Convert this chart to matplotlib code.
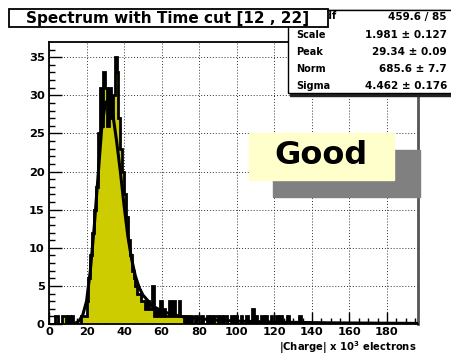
import matplotlib
matplotlib.use("Agg")
import matplotlib.pyplot as plt
import matplotlib.patches as mpatches
import numpy as np

plt.rcParams['font.family'] = ['DejaVu Sans']
plt.rcParams['font.weight'] = 'bold'
plt.rcParams['mathtext.default'] = 'bf'

# histogram contents, bins of width 1 starting at 0
counts = [0, 0, 0, 1, 1, 0, 0, 1, 1, 0, 1, 0, 1, 0, 0, 0, 0,
          1, 1, 1, 3, 6, 9, 12, 15, 18, 25, 31, 26, 33, 31, 26, 31, 27, 30,
          35, 33, 27, 23, 20, 17, 14, 11, 9, 7, 6, 5, 4, 4, 3, 3, 2, 3, 2,
          2, 5, 1, 2, 1, 3, 1, 2, 1, 1, 3, 1, 3, 1, 1, 3, 1, 1, 0, 1, 0, 1,
          0, 0, 1, 0, 0, 1, 0, 0, 1, 0, 1, 0, 1, 1, 0, 1, 0, 1, 1, 0, 0, 1,
          0, 1, 0, 0, 1, 0, 0, 1, 0, 0, 2, 0, 1, 0, 0, 1, 0, 1, 0, 0, 1, 0,
          0, 1, 0, 1, 0, 0, 0, 1, 0, 0, 0, 0, 0, 1]
counts = counts + [0] * (197 - len(counts))

# fitted curve
fit_x = [10, 14, 16, 18, 20, 22, 24, 26, 28, 30, 32, 34, 36, 38, 40, 42, 44,
         46, 48, 50, 55, 60, 65, 70, 80, 90, 100, 120, 150, 196]
fit_y = [0, 0.1, 0.4, 1.2, 3, 7, 12.5, 19, 25.5, 29, 29.5, 27.5, 24, 20, 15.5,
         11.5, 8.5, 6.3, 4.8, 3.8, 2.4, 1.7, 1.3, 1.0, 0.7, 0.5, 0.38, 0.25, 0.15, 0.08]

title = "Spectrum with Time cut [12 , 22]"
stat_labels = ["\u03c7$^2$ / ndf", "Scale", "Peak", "Norm", "Sigma"]
stat_values = ["459.6 / 85", "1.981 \u00b1 0.127", "29.34 \u00b1 0.09",
               "685.6 \u00b1 7.7", "4.462 \u00b1 0.176"]

W, H = 452, 355
fig = plt.figure(figsize=(W / 100, H / 100), dpi=100, facecolor='w')


def fx(x):
    return x / W


def fy(y):
    return 1 - y / H


ax = fig.add_axes([fx(49), fy(324), (418 - 49) / W, (324 - 42) / H])
edges = np.arange(len(counts) + 1)
ax.stairs(counts, edges, fill=True, color='#cccc00', zorder=2)
ax.stairs(counts, edges, color='k', lw=2, zorder=3)
ax.plot(fit_x, fit_y, color='k', lw=2.2, zorder=4)

ax.set_xlim(0, 196.5)
ax.set_ylim(0, 37)
ax.set_xticks(np.arange(0, 181, 20))
ax.set_xticks(np.arange(0, 196, 5), minor=True)
ax.set_yticks(np.arange(0, 36, 5))
ax.set_yticks(np.arange(0, 37, 1), minor=True)
ax.tick_params(which='both', direction='in', labelsize=8.2, width=1, color='k')
ax.tick_params(which='major', length=9)
ax.tick_params(which='minor', length=4.5)
ax.tick_params(axis='x', pad=2)
ax.tick_params(axis='y', pad=3)
for lab in ax.get_xticklabels() + ax.get_yticklabels():
    lab.set_fontweight('bold')
ax.grid(True, which='major', color='#333333', ls=(0, (1, 2)), lw=0.7)
for s in ax.spines.values():
    s.set_linewidth(1.3)
ax.spines['right'].set_color('#555555')
ax.spines['right'].set_linewidth(2)

fig.text(fx(417), fy(351.5), "|Charge| x 10$^{3}$ electrons",
         ha='right', va='baseline', fontsize=7.2, fontweight='bold')

# stats box with shadow
fig.patches.append(mpatches.Rectangle((fx(290), fy(96)), fx(170), 86 / H,
                                      transform=fig.transFigure, color='#222222', zorder=5))
fig.patches.append(mpatches.Rectangle((fx(288), fy(93)), fx(170), 83 / H,
                                      transform=fig.transFigure, fc='w', ec='k', lw=1, zorder=6))
# the part of the stats box hidden by the title box
clip = mpatches.Rectangle((fx(329), fy(93)), fx(130), 83 / H,
                          transform=fig.transFigure, visible=False)
fig.patches.append(clip)
row_y = [20, 38, 55, 72, 89]
for i, (lab, val, y) in enumerate(zip(stat_labels, stat_values, row_y)):
    t = fig.text(fx(296), fy(y), lab, fontsize=7, fontweight='bold', va='baseline', zorder=7)
    if i == 0:
        t.set_clip_path(clip)
    fig.text(fx(447), fy(y), val, fontsize=7.5, fontweight='bold', va='baseline',
             ha='right', zorder=7)

# title box
fig.patches.append(mpatches.Rectangle((fx(9), fy(27)), fx(319), 18 / H,
                                      transform=fig.transFigure, fc='w', ec='k', lw=1.3, zorder=8))
fig.text(fx(168), fy(23), title, ha='center', va='baseline', fontsize=11,
         fontweight='bold', zorder=9)

# "Good" label with grey shadow
fig.patches.append(mpatches.Rectangle((fx(273), fy(197)), fx(147), 47 / H,
                                      transform=fig.transFigure, color='#808080', zorder=10))
fig.patches.append(mpatches.Rectangle((fx(249), fy(180)), fx(145), 47 / H,
                                      transform=fig.transFigure, color='#ffffcc', zorder=11))
fig.text(fx(321), fy(164), "Good", ha='center', va='baseline', fontsize=23,
         fontweight='bold', zorder=12)

fig.savefig("out.png", dpi=100, facecolor='w')
